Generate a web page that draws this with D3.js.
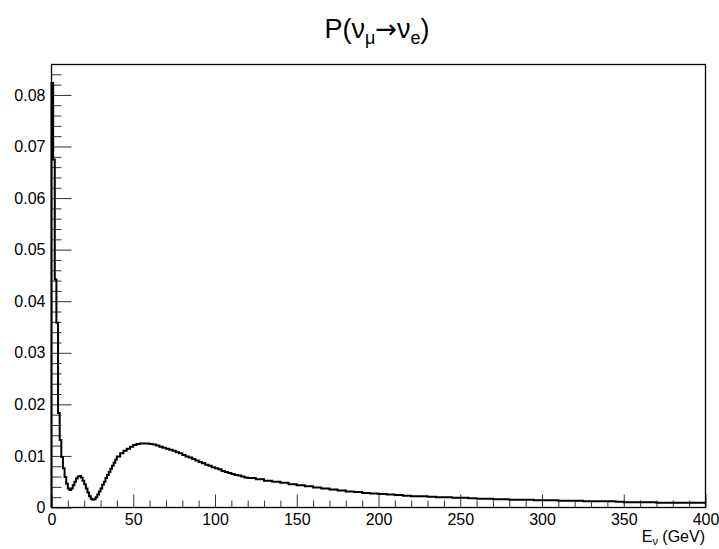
<!DOCTYPE html>
<html>
<head>
<meta charset="utf-8">
<script src="https://cdn.jsdelivr.net/npm/d3@7"></script>
<style>
  body { margin: 0; background: #fff; }
  text { font-family: "Liberation Sans", Arial, sans-serif; fill: #000; }
</style>
</head>
<body>
<svg width="719" height="549"></svg>
<script>
// bins of 1 GeV from 0 to 40
const probLow = [
  0.0823, 0.0675, 0.0442, 0.0358, 0.0183, 0.0131, 0.0098, 0.0076, 0.0059, 0.0046,
  0.0037, 0.0034, 0.0037, 0.0043, 0.0050, 0.0056, 0.0060, 0.0061, 0.0058, 0.0052,
  0.0045, 0.0037, 0.0029, 0.0022, 0.0017, 0.0015, 0.0016, 0.0020, 0.0025, 0.0031,
  0.0037, 0.0044, 0.0050, 0.0057, 0.0063, 0.0069, 0.0075, 0.0081, 0.0087, 0.0093
];
// bins of 2 GeV from 40 to 120
const probMid = [
  0.0099, 0.0105, 0.0110, 0.0114, 0.0118, 0.0121, 0.0123, 0.0124, 0.0124, 0.0124,
  0.0123, 0.0122, 0.0120, 0.0118, 0.0116, 0.0114, 0.0112, 0.0110, 0.0107, 0.0105,
  0.0102, 0.0099, 0.0097, 0.0094, 0.0091, 0.0088, 0.0086, 0.0083, 0.0081, 0.0078,
  0.0076, 0.0074, 0.0071, 0.0069, 0.0067, 0.0065, 0.0063, 0.0062, 0.0060, 0.0058
];
// bins of 5 GeV from 120 to 400
const probHigh = [
  0.0057, 0.0055, 0.0052, 0.0050, 0.0048, 0.0045, 0.0043, 0.0041, 0.0039, 0.0037,
  0.0035, 0.0033, 0.0031, 0.0030, 0.0028, 0.0027, 0.0026, 0.0025, 0.0024, 0.0023,
  0.0022, 0.0022, 0.0021, 0.0020, 0.0020, 0.0019, 0.0019, 0.0018, 0.0017, 0.0017,
  0.0016, 0.0016, 0.0015, 0.0015, 0.0015, 0.0014, 0.0014, 0.0014, 0.0013, 0.0013,
  0.0013, 0.0012, 0.0012, 0.0012, 0.0012, 0.0011, 0.0010, 0.0010, 0.0010, 0.0010,
  0.0009, 0.0009, 0.0009, 0.0009, 0.0009, 0.0009
];

const xMajor = [0, 50, 100, 150, 200, 250, 300, 350, 400];
const yMajor = [0, 0.01, 0.02, 0.03, 0.04, 0.05, 0.06, 0.07, 0.08];

const svg = d3.select('svg');

const padL = 51.5, padR = 705.5, padT = 64.5, padB = 507.5;

const x = d3.scaleLinear().domain([0, 400]).range([padL, padR]);
const y = d3.scaleLinear().domain([0, 0.0859]).range([padB, padT]);

// build the bins
let bins = [];
probLow.forEach((v, i) => bins.push({lo: i, hi: i + 1, v: v}));
probMid.forEach((v, i) => bins.push({lo: 40 + 2 * i, hi: 42 + 2 * i, v: v}));
probHigh.forEach((v, i) => bins.push({lo: 120 + 5 * i, hi: 125 + 5 * i, v: v}));

// minor ticks
const xMinor = d3.range(0, 401, 10).filter(d => d % 50 !== 0);
const yMinor = d3.range(0, 86, 2).filter(d => d % 10 !== 0).map(d => d / 1000);

svg.append('g')
    .attr('transform', `translate(0,${padB})`)
    .call(d3.axisBottom(x).tickValues(xMinor).tickSize(-7).tickFormat(''))
    .call(g => g.select('.domain').remove());

svg.append('g')
    .attr('transform', `translate(0,${padB})`)
    .call(d3.axisBottom(x).tickValues(xMajor).tickSize(-13).tickPadding(6))
    .call(g => g.select('.domain').remove())
    .selectAll('text').attr('font-size', 16).style('font-family', '"Liberation Sans", Arial, sans-serif');

svg.append('g')
    .attr('transform', `translate(${padL},0)`)
    .call(d3.axisLeft(y).tickValues(yMinor).tickSize(-10).tickFormat(''))
    .call(g => g.select('.domain').remove());

svg.append('g')
    .attr('transform', `translate(${padL},0)`)
    .call(d3.axisLeft(y).tickValues(yMajor).tickSize(-20).tickPadding(6)
        .tickFormat(d => d === 0 ? '0' : d.toFixed(2)))
    .call(g => g.select('.domain').remove())
    .selectAll('text').attr('font-size', 16).style('font-family', '"Liberation Sans", Arial, sans-serif');

svg.selectAll('.tick line').attr('stroke', '#333');

// frame
svg.append('rect')
    .attr('x', padL).attr('y', padT)
    .attr('width', padR - padL).attr('height', padB - padT)
    .attr('fill', 'none').attr('stroke', '#000').attr('stroke-width', 1.3);

// histogram as steps
let pts = [[x(0), y(0)]];
bins.forEach(b => {
    pts.push([x(b.lo), y(b.v)]);
    pts.push([x(b.hi), y(b.v)]);
});
svg.append('path')
    .attr('d', d3.line()(pts))
    .attr('fill', 'none')
    .attr('stroke', '#000')
    .attr('stroke-width', 2);

// title
const title = svg.append('text')
    .attr('x', 377).attr('y', 38)
    .attr('text-anchor', 'middle')
    .attr('font-size', 27);
title.append('tspan').text('P(ν');
title.append('tspan').attr('font-size', 18).attr('dy', 6).text('μ');
title.append('tspan').attr('dy', -6).style('font-family', '"DejaVu Sans", sans-serif')
    .attr('font-size', 26).text('→');
title.append('tspan').text('ν');
title.append('tspan').attr('font-size', 18).attr('dy', 6).text('e');
title.append('tspan').attr('dy', -6).text(')');

// x axis title
const xt = svg.append('text')
    .attr('x', 705).attr('y', 542)
    .attr('text-anchor', 'end')
    .attr('font-size', 16);
xt.append('tspan').text('E');
xt.append('tspan').attr('font-size', 11).attr('dy', 3).text('ν');
xt.append('tspan').attr('dy', -3).text(' (GeV)');
</script>
</body>
</html>
